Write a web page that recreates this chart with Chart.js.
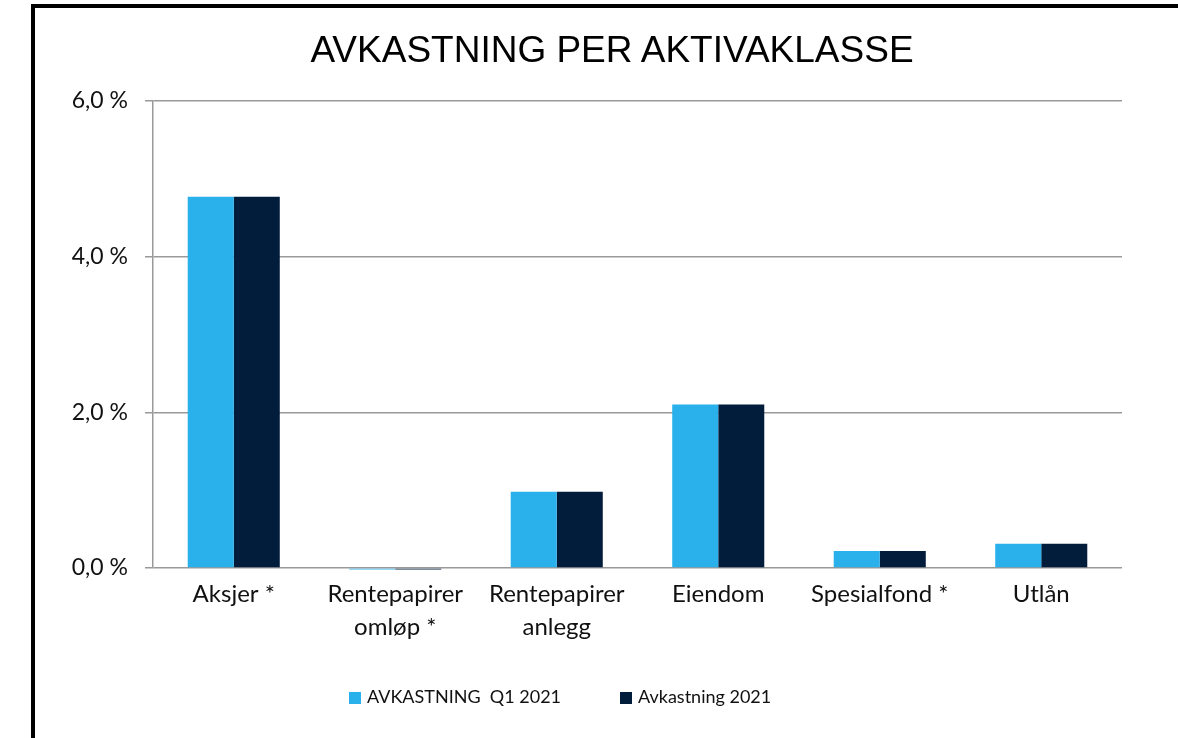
<!DOCTYPE html>
<html>
<head>
<meta charset="utf-8">
<script src="https://cdn.jsdelivr.net/npm/chart.js@4.4.0/dist/chart.umd.min.js"></script>
<style>
  html, body { margin: 0; padding: 0; background: #fff; }
  #wrap { position: relative; width: 1178px; height: 738px; overflow: hidden; }
  #frame { position: absolute; left: 31px; top: 4px; right: -10px; bottom: -10px;
           border-left: 4px solid #000; border-top: 4px solid #000; }
  canvas { position: absolute; left: 0; top: 0; }
  #title { position: absolute; left: 0; width: 1224px; top: 30.5px; text-align: center;
           font-family: "Liberation Sans", Arial, sans-serif; font-size: 37px; line-height: 37px; color: #000; white-space: pre; }
  #legend { position: absolute; top: 684px; left: 0; width: 1178px; height: 24px;
            font-family: Lato, "Noto Sans", sans-serif; font-size: 18px; color: #111; }
  .item { position: absolute; top: 0; height: 24px; line-height: 24px; white-space: pre; }
  .box { display: inline-block; width: 12px; height: 12px; vertical-align: -1px; margin-right: 6px; }
</style>
</head>
<body>
<div id="wrap">
  <div id="frame"></div>
  <canvas id="c" width="1178" height="738"></canvas>
  <div id="title"></div>
  <div id="legend"></div>
</div>
<script>
const titleText = 'AVKASTNING PER AKTIVAKLASSE';
const categories = ['Aksjer *', ['Rentepapirer', 'omløp *'], ['Rentepapirer', 'anlegg'], 'Eiendom', 'Spesialfond *', 'Utlån'];
const seriesNames = ['AVKASTNING  Q1 2021', 'Avkastning 2021'];
const q1Values = [4.77, -0.02, 0.98, 2.10, 0.22, 0.31];
const yearValues = [4.77, -0.02, 0.98, 2.10, 0.22, 0.31];
const yTicks = [0, 2, 4, 6];
const colors = ['#2AB1EC', '#021C3C'];

const padLeft = 40, padRight = 56;
document.getElementById('title').textContent = titleText;

const chart = new Chart(document.getElementById('c'), {
  type: 'bar',
  data: {
    labels: categories,
    datasets: [
      { label: seriesNames[0], data: q1Values, backgroundColor: colors[0], clip: false },
      { label: seriesNames[1], data: yearValues, backgroundColor: colors[1], clip: false }
    ]
  },
  options: {
    responsive: false,
    animation: false,
    devicePixelRatio: 1,
    layout: { padding: { left: padLeft, right: padRight, top: 101, bottom: 70 } },
    datasets: { bar: { barPercentage: 1.0, categoryPercentage: 0.57 } },
    plugins: {
      legend: { display: false },
      tooltip: { enabled: false },
      title: { display: false }
    },
    scales: {
      x: {
        grid: { display: false, drawTicks: false },
        border: { display: false },
        ticks: {
          color: '#111',
          font: { family: 'Lato, "Noto Sans", sans-serif', size: 24, lineHeight: 1.375 },
          padding: 10,
          maxRotation: 0,
          autoSkip: false
        },
        afterFit: (s) => { s.height = 100; }
      },
      y: {
        min: 0,
        max: 6,
        afterBuildTicks: (s) => { s.ticks = yTicks.map(v => ({ value: v })); },
        grid: { color: '#999', lineWidth: 1.5, tickLength: 8 },
        border: { display: true, color: '#999', width: 1.5 },
        ticks: {
          color: '#111',
          font: { family: 'Lato, "Noto Sans", sans-serif', size: 23 },
          padding: 17,
          callback: (v) => v.toFixed(1).replace('.', ',') + ' %'
        },
        afterFit: (s) => { s.width = 153 - padLeft; }
      }
    }
  }
});

// HTML legend built from the chart's datasets
const legendEl = document.getElementById('legend');
const legendX = [349, 620];
chart.data.datasets.forEach((ds, i) => {
  const it = document.createElement('div');
  it.className = 'item';
  it.style.left = legendX[i] + 'px';
  const b = document.createElement('span');
  b.className = 'box';
  b.style.background = ds.backgroundColor;
  it.appendChild(b);
  it.appendChild(document.createTextNode(ds.label));
  legendEl.appendChild(it);
});
</script>
</body>
</html>
